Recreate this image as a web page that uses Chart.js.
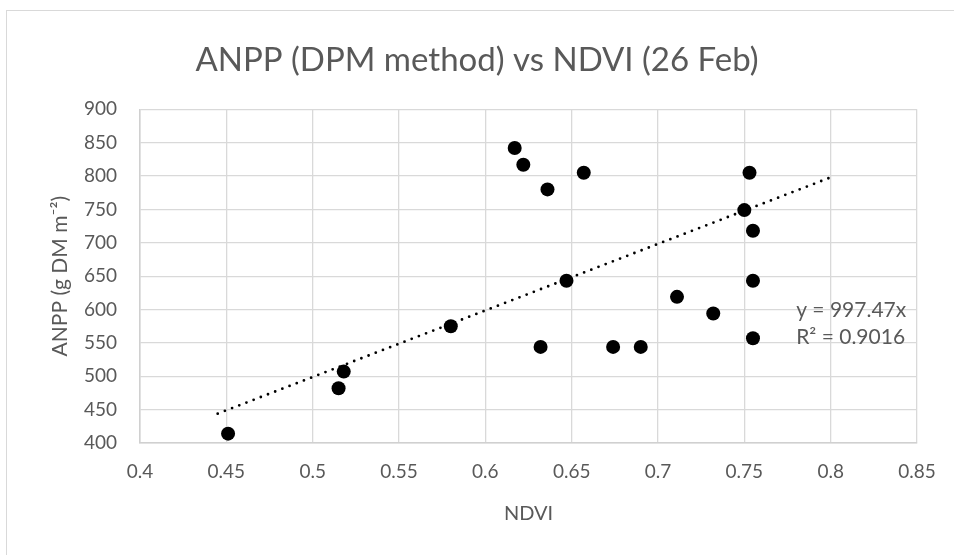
<!DOCTYPE html>
<html>
<head>
<meta charset="utf-8">
<script src="https://cdn.jsdelivr.net/npm/chart.js@4.4.0/dist/chart.umd.min.js"></script>
<style>
  html, body { margin: 0; padding: 0; background: #fff; overflow: hidden; }
  #frame { position: absolute; left: 6px; top: 10px; width: 1000px; height: 600px; border: 1.5px solid #d9d9d9; }
  #chart { position: absolute; left: 0; top: 0; }
</style>
</head>
<body>
<div id="frame"></div>
<canvas id="chart" width="954" height="555"></canvas>
<script>
// ============= DATA =============

const ndvi = [0.451, 0.515, 0.518, 0.580, 0.617, 0.622, 0.636, 0.657, 0.632, 0.647,
              0.674, 0.690, 0.711, 0.732, 0.753, 0.750, 0.755, 0.755, 0.755];
const anpp = [414, 482, 507, 575, 842, 817, 780, 805, 544, 643,
              544, 544, 619, 594, 805, 749, 718, 643, 557];

// dotted trendline ends (y = 997.47x)
const trendX = [0.445, 0.8];
const trendY = [444, 798];

const xTicks = [0.4, 0.45, 0.5, 0.55, 0.6, 0.65, 0.7, 0.75, 0.8, 0.85];
const yTicks = [400, 450, 500, 550, 600, 650, 700, 750, 800, 850, 900];

const titleText = 'ANPP (DPM method) vs NDVI (26 Feb)';
const equationLines = ['y = 997.47x', 'R\u00b2 = 0.9016'];

// ============= CHART =============

const FONT = 'Lato, "Open Sans", sans-serif';
const TEXT = '#595959';

// title centred on the whole canvas (built-in title centres on the padded box)
const centredTitle = {
  id: 'centredTitle',
  afterDraw(chart) {
    const { ctx } = chart;
    ctx.save();
    ctx.font = '33px ' + FONT;
    ctx.fillStyle = TEXT;
    ctx.textAlign = 'center';
    ctx.textBaseline = 'middle';
    ctx.fillText(titleText, chart.width / 2, 60);
    ctx.restore();
  }
};

// trendline label, placed in data units
const equationLabel = {
  id: 'equationLabel',
  afterDatasetsDraw(chart) {
    const { ctx, scales } = chart;
    ctx.save();
    ctx.font = '21px ' + FONT;
    ctx.fillStyle = TEXT;
    ctx.textAlign = 'left';
    ctx.textBaseline = 'middle';
    const x = scales.x.getPixelForValue(0.78);
    ctx.fillText(equationLines[0], x, scales.y.getPixelForValue(599));
    ctx.fillText(equationLines[1], x, scales.y.getPixelForValue(559));
    ctx.restore();
  }
};

const ctx = document.getElementById('chart').getContext('2d');

const chart = new Chart(ctx, {
  type: 'scatter',
  data: {
    datasets: [
      {
        data: ndvi.map((x, i) => ({ x: x, y: anpp[i] })),
        backgroundColor: '#000000',
        borderWidth: 0,
        pointRadius: 7,
        pointHoverRadius: 7
      },
      {
        type: 'line',
        data: trendX.map((x, i) => ({ x: x, y: trendY[i] })),
        borderColor: '#000000',
        borderWidth: 2.8,
        borderDash: [0, 7.7],
        borderCapStyle: 'round',
        pointRadius: 0,
        fill: false
      }
    ]
  },
  options: {
    responsive: false,
    animation: false,
    layout: { padding: { left: 0, right: 37, top: 109.3, bottom: 0 } },
    plugins: {
      legend: { display: false },
      tooltip: { enabled: false },
      title: { display: false }
    },
    scales: {
      x: {
        type: 'linear',
        min: 0.4,
        max: 0.85,
        afterBuildTicks: scale => { scale.ticks = xTicks.map(v => ({ value: v })); },
        afterFit: scale => { scale.height = 112; },
        grid: { color: '#d9d9d9', lineWidth: 1.3, drawTicks: false },
        border: { color: '#d0d0d0', width: 1.5 },
        ticks: {
          color: TEXT,
          padding: 17,
          font: { family: FONT, size: 19 },
          callback: v => String(+v.toFixed(2))
        },
        title: {
          display: true,
          text: 'NDVI',
          color: TEXT,
          font: { family: FONT, size: 20 },
          padding: { top: 0, bottom: 29 }
        }
      },
      y: {
        type: 'linear',
        min: 400,
        max: 900,
        afterBuildTicks: scale => { scale.ticks = yTicks.map(v => ({ value: v })); },
        afterFit: scale => { scale.width = 140; },
        grid: { color: '#d9d9d9', lineWidth: 1.3, drawTicks: false },
        border: { color: '#d0d0d0', width: 1.5 },
        ticks: {
          color: TEXT,
          padding: 23,
          font: { family: FONT, size: 19 }
        },
        title: {
          display: true,
          text: 'ANPP (g DM m\u207b\u00b2)',
          color: TEXT,
          font: { family: FONT, size: 21 },
          padding: { top: 48, bottom: 0 }
        }
      }
    }
  },
  plugins: [centredTitle, equationLabel]
});
</script>
</body>
</html>
